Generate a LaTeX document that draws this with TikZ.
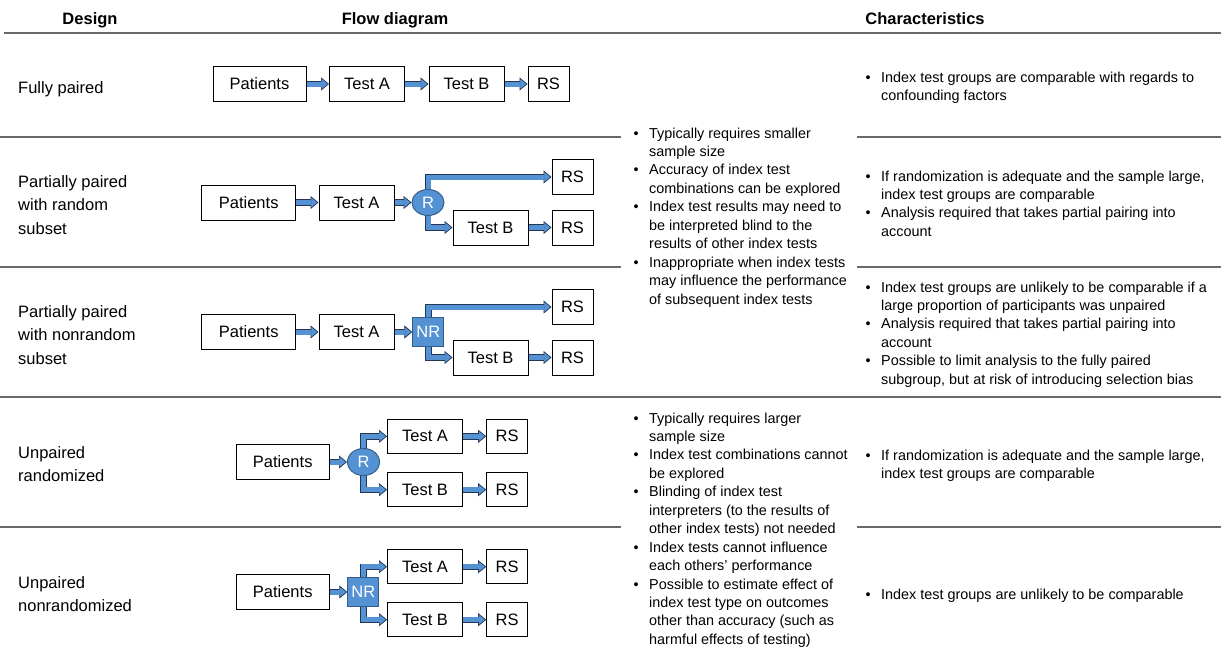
\documentclass[tikz,border=0pt]{standalone}
\usepackage{fontspec}
\setmainfont{Liberation Sans}
\usetikzlibrary{arrows.meta,shapes.geometric,backgrounds}
\definecolor{myblue}{RGB}{84,146,211}
\definecolor{arredge}{RGB}{35,55,85}
\definecolor{redge}{RGB}{52,94,140}
\definecolor{rulegray}{RGB}{105,105,105}
\newcommand\bxf{\fontsize{16.5}{19}\selectfont}
\newcommand\smf{\fontsize{14.4}{18.45}\selectfont}
\newcommand\dsf{\fontsize{16.5}{23.5}\selectfont}
\newcommand\hdf{\fontsize{16.5}{19}\selectfont\bfseries}
\newcommand\bitem[1]{\par\hangindent=15.5pt\hangafter=1\noindent\makebox[15.5pt][l]{\textbullet}#1}
\tikzset{
  x=1pt,y=-1pt,
  box/.style={draw=black,line width=1pt,fill=white,minimum height=35pt,inner sep=0,font=\bxf},
  rnode/.style={ellipse,draw=redge,line width=1pt,fill=myblue,text=white,minimum width=32pt,minimum height=26pt,inner sep=0,font=\bxf},
  nrnode/.style={rectangle,draw=redge,line width=1pt,fill=myblue,text=white,minimum width=31pt,minimum height=29pt,inner sep=0,font=\bxf},
  barrow/.style={line width=6.4pt,draw=arredge,line join=miter,
    -{Triangle[width=13pt,length=8pt,line width=0.7pt,fill=myblue,color=arredge]},
    postaction={draw=myblue,line width=5pt,-,shorten >=7.3pt}},
  txt/.style={anchor=base west,inner sep=0},
  sep/.style={draw=rulegray,line width=1.5pt},
}
\begin{document}
\begin{tikzpicture}
\useasboundingbox (0,0) rectangle (1221,654);
% headers
\node[anchor=base,inner sep=0,font=\hdf] (h1) at (90,24) {Design};
\node[anchor=base,inner sep=0,font=\hdf] (h2) at (395,24) {Flow diagram};
\node[anchor=base,inner sep=0,font=\hdf] (h3) at (925,24) {Characteristics};
% rules
\draw[draw=rulegray,line width=2.5pt] (4,33) -- (1221,33);
\draw[sep] (0,137) -- (621,137);
\draw[sep] (857,137) -- (1221,137);
\draw[sep] (0,267) -- (621,267);
\draw[sep] (857,267) -- (1221,267);
\draw[sep] (0,397) -- (1221,397);
\draw[sep] (0,527) -- (621,527);
\draw[sep] (857,527) -- (1221,527);
% design labels
\node[txt] (d1) at (18,93) {\parbox[t]{150pt}{\dsf Fully paired}};
\node[txt] (d2) at (18,187) {\parbox[t]{150pt}{\dsf Partially paired\\with random\\subset}};
\node[txt] (d3) at (18,317) {\parbox[t]{150pt}{\dsf Partially paired\\with nonrandom\\subset}};
\node[txt] (d4) at (18,458) {\parbox[t]{150pt}{\dsf Unpaired\\randomized}};
\node[txt] (d5) at (18,588) {\parbox[t]{150pt}{\dsf Unpaired\\nonrandomized}};
% row 1
\node[box,minimum width=93pt] (P1) at (259.5,84) {Patients};
\node[box,minimum width=75pt] (TA1) at (367,84) {Test A};
\node[box,minimum width=75pt] (TB1) at (466.5,84) {Test B};
\node[box,minimum width=41pt] (RS1) at (548.5,84) {RS};
% row 2
\node[box,minimum width=94pt] (P2) at (248.7,202.5) {Patients};
\node[box,minimum width=75pt] (TA2) at (356.5,202.5) {Test A};
\node[rnode] (R2) at (428,202.5) {R};
\node[box,minimum width=41pt] (RS2a) at (572.5,177) {RS};
\node[box,minimum width=75pt] (TB2) at (490.5,227.5) {Test B};
\node[box,minimum width=41pt] (RS2b) at (572.5,227.5) {RS};
% row 3
\node[box,minimum width=94pt] (P3) at (248.7,332) {Patients};
\node[box,minimum width=75pt] (TA3) at (356.5,332) {Test A};
\node[nrnode] (NR3) at (428.3,332) {NR};
\node[box,minimum width=41pt] (RS3a) at (572.5,307) {RS};
\node[box,minimum width=75pt] (TB3) at (490.5,357.5) {Test B};
\node[box,minimum width=41pt] (RS3b) at (572.5,357.5) {RS};
% row 4
\node[box,minimum width=93pt] (P4) at (282.7,462) {Patients};
\node[rnode,minimum height=27pt] (R4) at (363.5,462) {R};
\node[box,minimum width=75pt,minimum height=34pt] (TA4) at (425,436.3) {Test A};
\node[box,minimum width=41pt,minimum height=34pt] (RS4a) at (507.2,436.3) {RS};
\node[box,minimum width=75pt,minimum height=34pt] (TB4) at (425,489.7) {Test B};
\node[box,minimum width=41pt,minimum height=34pt] (RS4b) at (507.2,489.7) {RS};
% row 5
\node[box,minimum width=93pt] (P5) at (282.7,592) {Patients};
\node[nrnode,minimum height=28.5pt] (NR5) at (363.3,592) {NR};
\node[box,minimum width=75pt,minimum height=34pt] (TA5) at (425,566.7) {Test A};
\node[box,minimum width=41pt,minimum height=34pt] (RS5a) at (507.2,566.7) {RS};
\node[box,minimum width=75pt,minimum height=34pt] (TB5) at (425,619.7) {Test B};
\node[box,minimum width=41pt,minimum height=34pt] (RS5b) at (507.2,619.7) {RS};
% arrows
\begin{scope}[on background layer]
\draw[barrow] (P1.east) -- (TA1.west);
\draw[barrow] (TA1.east) -- (TB1.west);
\draw[barrow] (TB1.east) -- (RS1.west);
\draw[barrow] (P2.east) -- (TA2.west);
\draw[barrow] (TA2.east) -- (R2.west);
\draw[barrow] (R2.center) |- (RS2a.west);
\draw[barrow] (R2.center) |- (TB2.west);
\draw[barrow] (TB2.east) -- (RS2b.west);
\draw[barrow] (P3.east) -- (TA3.west);
\draw[barrow] (TA3.east) -- (NR3.west);
\draw[barrow] (NR3.center) |- (RS3a.west);
\draw[barrow] (NR3.center) |- (TB3.west);
\draw[barrow] (TB3.east) -- (RS3b.west);
\draw[barrow] (P4.east) -- (R4.west);
\draw[barrow] (R4.center) |- (TA4.west);
\draw[barrow] (R4.center) |- (TB4.west);
\draw[barrow] (TA4.east) -- (RS4a.west);
\draw[barrow] (TB4.east) -- (RS4b.west);
\draw[barrow] (P5.east) -- (NR5.west);
\draw[barrow] (NR5.center) |- (TA5.west);
\draw[barrow] (NR5.center) |- (TB5.west);
\draw[barrow] (TA5.east) -- (RS5a.west);
\draw[barrow] (TB5.east) -- (RS5b.west);
\end{scope}
% middle text
\node[txt] (m1) at (633.5,138) {\parbox[t]{250pt}{\smf
\bitem{Typically requires smaller\\sample size}
\bitem{Accuracy of index test\\combinations can be explored}
\bitem{Index test results may need to\\be interpreted blind to the\\results of other index tests}
\bitem{Inappropriate when index tests\\may influence the performance\\of subsequent index tests}}};
\node[txt] (m2) at (633.5,423) {\parbox[t]{250pt}{\smf
\bitem{Typically requires larger\\sample size}
\bitem{Index test combinations cannot\\be explored}
\bitem{Blinding of index test\\interpreters (to the results of\\other index tests) not needed}
\bitem{Index tests cannot influence\\each others’ performance}
\bitem{Possible to estimate effect of\\index test type on outcomes\\other than accuracy (such as\\harmful effects of testing)}}};
% right text
\node[txt] (c1) at (865.5,82) {\parbox[t]{360pt}{\smf
\bitem{Index test groups are comparable with regards to\\confounding factors}}};
\node[txt] (c2) at (865.5,181) {\parbox[t]{360pt}{\smf
\bitem{If randomization is adequate and the sample large,\\index test groups are comparable}
\bitem{Analysis required that takes partial pairing into\\account}}};
\node[txt] (c3) at (865.5,292) {\parbox[t]{360pt}{\smf
\bitem{Index test groups are unlikely to be comparable if a\\large proportion of participants was unpaired}
\bitem{Analysis required that takes partial pairing into\\account}
\bitem{Possible to limit analysis to the fully paired\\subgroup, but at risk of introducing selection bias}}};
\node[txt] (c4) at (865.5,460) {\parbox[t]{360pt}{\smf
\bitem{If randomization is adequate and the sample large,\\index test groups are comparable}}};
\node[txt] (c5) at (865.5,599) {\parbox[t]{360pt}{\smf
\bitem{Index test groups are unlikely to be comparable}}};
\end{tikzpicture}
\end{document}
